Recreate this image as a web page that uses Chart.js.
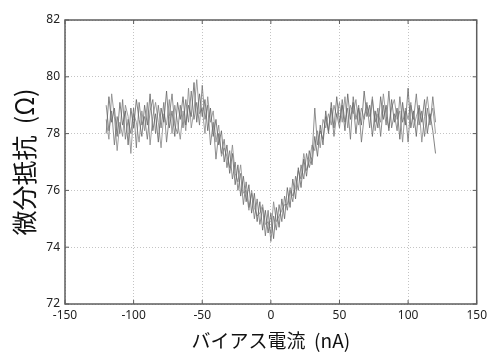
<!DOCTYPE html>
<html>
<head>
<meta charset="utf-8">
<script src="https://cdn.jsdelivr.net/npm/chart.js@4/dist/chart.umd.min.js"></script>
<style>
  body { margin: 0; background: #fff; }
</style>
</head>
<body>
<canvas id="grafico" width="491" height="352"></canvas>
<script>
// bias current (nA), one point every 2 nA
const corrente = [];
for (let i = -120; i <= 120; i += 2) corrente.push(i);

const varredura1 = [
  78.0, 79.3, 78.4, 78.9, 77.9, 79.1, 78.3, 78.8, 77.6, 78.9, 78.2, 79.2, 78.5, 77.9, 79.0, 78.3,
  79.4, 78.1, 78.7, 77.7, 78.9, 78.4, 79.5, 78.2, 78.8, 77.9, 79.1, 78.5, 79.3, 78.3, 79.0, 78.6,
  79.8, 78.4, 79.4, 78.6, 79.2, 78.1, 78.9, 77.9, 78.5, 77.6, 78.1, 77.0, 77.6, 76.6, 77.3, 76.2,
  76.9, 75.8, 76.5, 75.6, 76.2, 75.2, 75.9, 74.9, 75.6, 74.6, 75.3, 74.5, 75.2, 74.3, 75.4, 74.7,
  75.7, 75.0, 76.1, 75.4, 76.4, 75.7, 76.8, 76.1, 77.1, 76.5, 77.4, 76.9, 77.9, 77.2, 78.3, 77.6,
  78.8, 78.0, 79.1, 78.2, 79.3, 78.4, 79.0, 78.1, 79.4, 78.5, 79.1, 78.0, 78.9, 78.3, 79.5, 78.6,
  79.0, 77.9, 78.8, 78.2, 79.3, 78.5, 79.0, 78.1, 79.2, 78.4, 78.9, 77.8, 79.1, 78.3, 79.6, 78.2,
  78.8, 77.9, 79.0, 78.4, 79.2, 78.0, 78.7, 78.1, 77.3
];

const varredura2 = [
  79.0, 78.1, 78.8, 77.6, 78.6, 78.0, 79.2, 77.8, 78.5, 78.0, 78.9, 77.5, 79.1, 78.3, 78.6, 77.8,
  78.8, 79.2, 78.0, 79.0, 78.2, 79.1, 77.7, 78.6, 79.4, 78.3, 78.0, 79.0, 78.2, 79.2, 78.4, 79.5,
  78.5, 79.1, 78.3, 79.7, 78.5, 79.0, 77.6, 78.4, 77.1, 78.0, 77.3, 77.8, 76.8, 77.4, 76.4, 77.0,
  76.0, 76.6, 75.5, 76.3, 75.4, 75.9, 75.0, 75.7, 74.8, 75.4, 74.4, 75.3, 74.2, 75.1, 74.6, 75.5,
  74.9, 75.8, 75.3, 76.0, 75.6, 76.5, 76.0, 76.9, 76.4, 77.3, 76.8, 77.2, 78.9, 77.6, 78.1, 77.8,
  78.6, 78.1, 78.9, 77.9, 78.7, 78.2, 79.2, 78.4, 78.9, 77.8, 79.3, 78.5, 79.0, 77.7, 78.6, 79.1,
  78.2, 79.2, 78.4, 78.9, 77.9, 79.0, 78.3, 79.5, 78.2, 78.7, 78.1, 79.3, 78.4, 78.8, 77.7, 79.0,
  78.5, 79.4, 78.3, 78.8, 77.9, 78.9, 78.3, 79.3, 78.4
];

const varredura3 = [
  78.5, 77.8, 79.4, 78.6, 77.4, 78.4, 77.9, 79.0, 78.6, 77.3, 78.7, 78.4, 77.7, 78.8, 78.1, 79.1,
  77.6, 78.6, 79.1, 78.4, 77.5, 78.7, 78.3, 79.2, 78.0, 79.0, 78.4, 77.8, 78.8, 78.1, 79.6, 78.2,
  78.8, 79.9, 78.7, 78.9, 78.0, 79.3, 78.4, 78.8, 77.7, 78.3, 77.2, 77.5, 77.2, 76.8, 77.6, 76.6,
  76.3, 76.9, 75.9, 76.0, 75.3, 76.0, 75.4, 75.1, 75.2, 75.5, 74.8, 74.9, 74.5, 75.6, 74.9, 75.1,
  75.3, 75.5, 75.5, 76.1, 75.8, 76.1, 76.7, 76.4, 77.3, 76.7, 77.0, 77.6, 77.4, 78.1, 77.5, 78.5,
  78.2, 78.7, 78.3, 79.0, 78.6, 79.1, 78.4, 79.3, 78.2, 79.0, 78.7, 79.2, 78.3, 78.9, 78.5, 79.0,
  78.6, 79.3, 78.1, 78.7, 78.4, 79.4, 78.6, 78.2, 78.9, 79.2, 78.5, 78.8, 77.7, 78.9, 78.5, 79.1,
  78.2, 78.6, 78.9, 77.7, 78.6, 79.3, 78.5, 78.9, 78.0
];

const ticksX = [-150, -100, -50, 0, 50, 100, 150];
const ticksY = [72, 74, 76, 78, 80, 82];

function montaPontos(valores) {
  return valores.map((v, i) => ({ x: corrente[i], y: v }));
}

// frame around the plot with inward ticks on all four sides
const moldura = {
  id: "moldura",
  afterDatasetsDraw(chart) {
    const { ctx, chartArea: a, scales } = chart;
    ctx.save();
    ctx.strokeStyle = "#5e5e5e";
    ctx.lineWidth = 1.5;
    ctx.strokeRect(a.left, a.top, a.right - a.left, a.bottom - a.top);
    ctx.lineWidth = 1;
    ctx.beginPath();
    ticksX.forEach(t => {
      const px = scales.x.getPixelForValue(t);
      ctx.moveTo(px, a.bottom); ctx.lineTo(px, a.bottom - 4);
      ctx.moveTo(px, a.top); ctx.lineTo(px, a.top + 4);
    });
    ticksY.forEach(t => {
      const py = scales.y.getPixelForValue(t);
      ctx.moveTo(a.left, py); ctx.lineTo(a.left + 4, py);
      ctx.moveTo(a.right, py); ctx.lineTo(a.right - 4, py);
    });
    ctx.stroke();
    ctx.restore();
  }
};

const fonteTicks = { family: "'Noto Sans', 'Open Sans', sans-serif", size: 12 };

const grafico = new Chart(document.getElementById("grafico"), {
  type: "line",
  data: {
    datasets: [
      { data: montaPontos(varredura1), borderColor: "rgba(100,100,100,0.8)" },
      { data: montaPontos(varredura2), borderColor: "rgba(115,115,115,0.8)" },
      { data: montaPontos(varredura3), borderColor: "rgba(135,135,135,0.8)" },
    ].map(d => ({ ...d, borderWidth: 1, pointRadius: 0, tension: 0, fill: false })),
  },
  options: {
    responsive: false,
    animation: false,
    layout: { padding: { left: 0, right: 13, top: 20, bottom: 0 } },
    plugins: { legend: { display: false }, tooltip: { enabled: false } },
    scales: {
      x: {
        type: "linear",
        min: -150,
        max: 150,
        afterBuildTicks: s => { s.ticks = ticksX.map(v => ({ value: v })); },
        afterFit: s => { s.height = 48; },
        ticks: { color: "#222", font: fonteTicks, padding: 4, maxRotation: 0 },
        grid: { color: "#c4c4c4", drawTicks: false },
        border: { display: false, dash: [1, 2] },
        title: {
          display: true, text: "バイアス電流  (nA)", color: "#111",
          font: { family: "'Noto Sans CJK JP', sans-serif", size: 19 },
          padding: { top: 0, bottom: 0 }
        },
      },
      y: {
        min: 72,
        max: 82,
        afterBuildTicks: s => { s.ticks = ticksY.map(v => ({ value: v })); },
        afterFit: s => { s.width = 65; },
        ticks: { color: "#222", font: fonteTicks, padding: 5 },
        grid: { color: "#c4c4c4", drawTicks: false },
        border: { display: false, dash: [1, 2] },
        title: {
          display: true, text: "微分抵抗  (Ω)", color: "#111",
          font: { family: "'Noto Sans CJK JP', sans-serif", size: 25 },
          padding: { top: 9, bottom: 0 }
        },
      },
    },
  },
  plugins: [moldura],
});
</script>
</body>
</html>
